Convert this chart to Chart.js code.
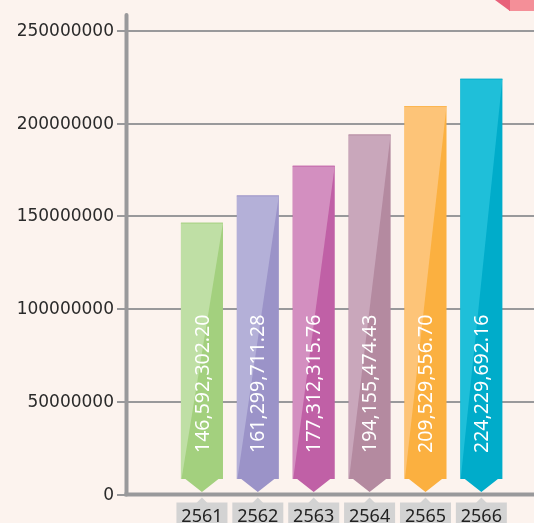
<!DOCTYPE html>
<html>
<head>
<meta charset="utf-8">
<script src="https://cdn.jsdelivr.net/npm/chart.js@4/dist/chart.umd.min.js"></script>
<style>
  html, body { margin: 0; padding: 0; background: #fcf3ee; }
  #wrap { width: 534px; height: 523px; position: relative; overflow: hidden; }
</style>
</head>
<body>
<div id="wrap"><canvas id="myChart" width="534" height="523"></canvas></div>
<script>
const years = ["2561", "2562", "2563", "2564", "2565", "2566"];
const amounts = [146592302.20, 161299711.28, 177312315.76, 194155474.43, 209529556.70, 224229692.16];
const amountLabels = ["146,592,302.20", "161,299,711.28", "177,312,315.76", "194,155,474.43", "209,529,556.70", "224,229,692.16"];
const lightColors = ["#bfdfa5", "#b4b0d8", "#d38fc0", "#c9a7bb", "#fdc478", "#1fbfd9"];
const darkColors = ["#a3d07e", "#9b93c8", "#c060a6", "#b48aa0", "#fbb040", "#00acca"];
const yMax = 250000000;
const yStep = 50000000;
const barBase = 8400000;

const gray = "#99999b";

const decor = {
    id: "decor",
    beforeDraw(chart) {
        const ctx = chart.ctx;
        const y = chart.scales.y;
        ctx.save();
        ctx.fillStyle = "#fcf3ee";
        ctx.fillRect(0, 0, chart.width, chart.height);

        // pink corner
        ctx.fillStyle = "#f48f98";
        ctx.fillRect(509, 0, 25, 11);
        ctx.fillStyle = "#e8617a";
        ctx.beginPath();
        ctx.moveTo(495, 0);
        ctx.lineTo(510, 0);
        ctx.lineTo(510, 11);
        ctx.closePath();
        ctx.fill();

        // grid lines + tick labels
        ctx.strokeStyle = gray;
        ctx.lineWidth = 2;
        ctx.fillStyle = "#2a2a2a";
        ctx.font = "17px 'DejaVu Sans'";
        ctx.textAlign = "right";
        ctx.textBaseline = "middle";
        y.ticks.forEach(t => {
            const py = Math.round(y.getPixelForValue(t.value));
            ctx.fillText(String(t.value), 114, py + 1);
            if (t.value === 0) return;
            ctx.beginPath();
            ctx.moveTo(117, py);
            ctx.lineTo(chart.width, py);
            ctx.stroke();
        });
        ctx.restore();
    },
    afterDatasetsDraw(chart) {
        const ctx = chart.ctx;
        const x = chart.scales.x;
        const y = chart.scales.y;
        const bars = chart.getDatasetMeta(0).data;
        ctx.save();
        bars.forEach((bar, i) => {
            const w = bar.width;
            const l = bar.x - w / 2, r = bar.x + w / 2;
            const top = bar.y, bot = bar.base;
            const tip = bot + 13;
            const shape = () => {
                ctx.beginPath();
                ctx.moveTo(l, top);
                ctx.lineTo(r, top);
                ctx.lineTo(r, bot);
                ctx.lineTo(r - 4.5, bot);
                ctx.lineTo(bar.x, tip);
                ctx.lineTo(l + 4.5, bot);
                ctx.lineTo(l, bot);
                ctx.closePath();
            };
            shape();
            ctx.fillStyle = darkColors[i];
            ctx.fill();
            // light upper-left triangle
            ctx.save();
            shape();
            ctx.clip();
            ctx.beginPath();
            ctx.moveTo(l, top);
            ctx.lineTo(r, top);
            ctx.lineTo(l, bot + 4);
            ctx.closePath();
            ctx.fillStyle = lightColors[i];
            ctx.fill();
            ctx.restore();
            // top edge
            ctx.fillStyle = darkColors[i];
            ctx.globalAlpha = 0.7;
            ctx.fillRect(l, top, w, 1);
            ctx.globalAlpha = 1;

            // value label
            ctx.save();
            ctx.translate(bar.x + 1, 453);
            ctx.rotate(-Math.PI / 2);
            ctx.fillStyle = "#ffffff";
            ctx.font = "19.5px 'Noto Sans'";
            ctx.textAlign = "left";
            ctx.textBaseline = "middle";
            ctx.fillText(amountLabels[i], 0, 0);
            ctx.restore();
        });

        // axes
        const y0 = y.getPixelForValue(0);
        ctx.strokeStyle = gray;
        ctx.lineWidth = 4;
        ctx.lineCap = "round";
        ctx.beginPath();
        ctx.moveTo(126.5, 15);
        ctx.lineTo(126.5, y0);
        ctx.stroke();
        ctx.lineCap = "butt";
        ctx.beginPath();
        ctx.moveTo(124.5, y0);
        ctx.lineTo(chart.width, y0);
        ctx.stroke();
        ctx.lineWidth = 2;
        ctx.beginPath();
        ctx.moveTo(117, Math.round(y0));
        ctx.lineTo(125, Math.round(y0));
        ctx.stroke();

        // x labels in boxes
        years.forEach((label, i) => {
            const cx = x.getPixelForValue(i);
            ctx.fillStyle = "#d3d3d3";
            ctx.fillRect(cx - 25.5, 502.5, 51, 30);
            ctx.beginPath();
            ctx.moveTo(cx - 5.5, 503);
            ctx.lineTo(cx, 497.5);
            ctx.lineTo(cx + 5.5, 503);
            ctx.closePath();
            ctx.fill();
            ctx.fillStyle = "#222222";
            ctx.font = "18px 'Noto Sans'";
            ctx.textAlign = "center";
            ctx.textBaseline = "alphabetic";
            ctx.fillText(label, cx, 522);
        });
        ctx.restore();
    }
};

new Chart("myChart", {
    type: "bar",
    data: {
        labels: years,
        datasets: [{
            data: amounts,
            base: barBase,
            backgroundColor: "rgba(0,0,0,0)",
            barPercentage: 0.753,
            categoryPercentage: 1
        }]
    },
    options: {
        responsive: false,
        animation: false,
        layout: { padding: { top: 31, bottom: 28.5, right: 24.7, left: 0 } },
        plugins: { legend: { display: false }, tooltip: { enabled: false } },
        scales: {
            x: { display: false },
            y: {
                min: 0,
                max: yMax,
                afterFit: s => { s.width = 174; },
                grid: { display: false },
                border: { display: false },
                ticks: { display: false, stepSize: yStep }
            }
        }
    },
    plugins: [decor]
});
</script>
</body>
</html>
